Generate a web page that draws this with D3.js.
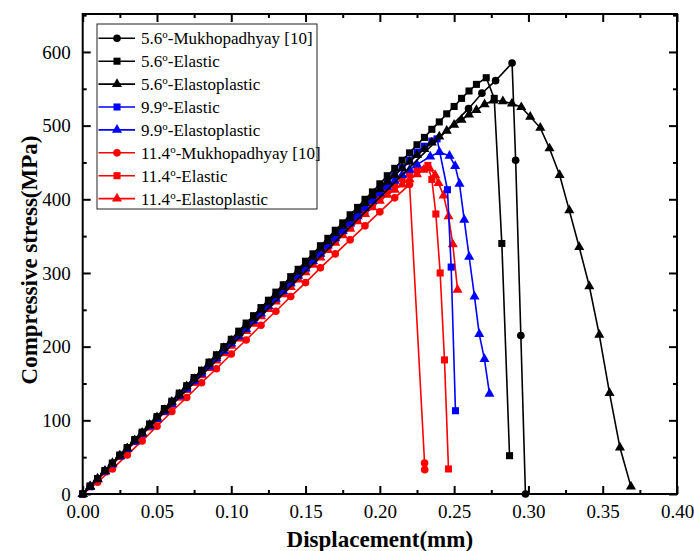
<!DOCTYPE html>
<html>
<head>
<meta charset="utf-8">
<script src="https://cdn.jsdelivr.net/npm/d3@7/dist/d3.min.js"></script>
<style>
  html, body { margin: 0; padding: 0; background: #fff; }
  svg { display: block; }
  text { font-family: "Liberation Serif", "Times New Roman", serif; }
</style>
</head>
<body>
<svg id="chart" width="694" height="551"></svg>
<script>
// ---------------- DATA ----------------
const legendLabels = [
  ["5.6", "-Mukhopadhyay [10]"],
  ["5.6", "-Elastic"],
  ["5.6", "-Elastoplastic"],
  ["9.9", "-Elastic"],
  ["9.9", "-Elastoplastic"],
  ["11.4", "-Mukhopadhyay [10]"],
  ["11.4", "-Elastic"],
  ["11.4", "-Elastoplastic"]
];
const seriesColors = ["#000000", "#000000", "#000000", "#0000ff", "#0000ff", "#ff0000", "#ff0000", "#ff0000"];
const seriesSymbols = ["circle", "square", "triangle", "square", "triangle", "circle", "square", "triangle"];

const xTicks = [0.00, 0.05, 0.10, 0.15, 0.20, 0.25, 0.30, 0.35, 0.40];
const xMinorTicks = [0.025, 0.075, 0.125, 0.175, 0.225, 0.275, 0.325, 0.375];
const yTicks = [0, 100, 200, 300, 400, 500, 600];
const yMinorTicks = [50, 150, 250, 350, 450, 550, 650];

// shared displacement grid of the simulated curves (mm)
const simDisp = [0, 0.005, 0.01, 0.015, 0.02, 0.025, 0.03, 0.035, 0.04, 0.045,
  0.05, 0.055, 0.06, 0.065, 0.07, 0.075, 0.08, 0.085, 0.09, 0.095,
  0.10, 0.105, 0.11, 0.115, 0.12, 0.125, 0.13, 0.135, 0.14, 0.145,
  0.15, 0.155, 0.16, 0.165, 0.17, 0.175, 0.18, 0.185, 0.19, 0.195,
  0.20, 0.205, 0.21, 0.215, 0.22, 0.225, 0.23, 0.235, 0.24, 0.245,
  0.25, 0.255, 0.26, 0.265];

// 5.6 Mukhopadhyay [10]
const muk56Disp = [0, 0.2597, 0.2687, 0.2779, 0.289, 0.2914, 0.2949, 0.298];
const muk56Stress = [0, 523, 544, 561, 585, 453, 215, 0];

// 5.6 Elastic
const el56TailDisp = [0.2716, 0.277, 0.2821, 0.2873];
const el56Stress = [0, 11, 21, 32, 42, 53, 63, 74, 84, 95,
  105, 116, 126, 137, 147, 158, 168, 179, 189, 200,
  210, 221, 232, 242, 253, 263, 274, 284, 295, 305,
  316, 326, 337, 347, 358, 368, 379, 389, 400, 410,
  421, 432, 442, 453, 463, 474, 484, 495, 505, 516,
  526, 537, 547, 556,
  565, 537, 340, 52];

// 5.6 Elastoplastic
const ep56TailDisp = [0.2705, 0.2765, 0.2828, 0.2889, 0.2952, 0.3012, 0.308, 0.3142,
  0.321, 0.3275, 0.3342, 0.341, 0.3477, 0.3546, 0.3616, 0.369];
const ep56Stress = [0, 10, 21, 31, 42, 52, 62, 73, 83, 94,
  104, 114, 125, 135, 146, 156, 166, 177, 187, 198,
  208, 218, 229, 239, 250, 260, 270, 281, 291, 302,
  312, 322, 333, 343, 354, 364, 374, 385, 395, 405,
  414, 424, 433, 442, 451, 460, 468, 477, 485, 493,
  501, 508, 515, 521,
  529, 534, 533, 530, 525, 512, 497, 469, 433, 385, 335, 282, 216, 137, 63, 10];

// 9.9 Elastic
const el99TailDisp = [0.2385, 0.2455, 0.248, 0.2509];
const el99Stress = [0, 10, 21, 31, 41, 52, 62, 72, 82, 93,
  103, 113, 124, 134, 144, 155, 165, 175, 185, 196,
  206, 216, 227, 237, 247, 258, 268, 278, 288, 299,
  309, 319, 330, 340, 350, 361, 371, 381, 391, 402,
  412, 422, 433, 443, 453, 464, 472, 479,
  482, 413, 308, 113];

// 9.9 Elastoplastic
const ep99TailDisp = [0.2339, 0.2401, 0.2469, 0.2507, 0.2536, 0.2568, 0.2601, 0.2637,
  0.2669, 0.2704, 0.2738];
const ep99Stress = [0, 10, 20, 31, 41, 51, 61, 71, 82, 92,
  102, 112, 122, 133, 143, 153, 163, 173, 184, 194,
  204, 214, 224, 235, 245, 255, 265, 275, 286, 296,
  306, 316, 326, 337, 347, 357, 367, 377, 388, 398,
  408, 417, 425, 433, 440, 447,
  458, 464, 459, 445, 421, 372, 322, 268, 217, 183, 136];

// 11.4 Mukhopadhyay [10]
const muk114Disp = [0, 0.01, 0.02, 0.03, 0.04, 0.05, 0.06, 0.07, 0.08, 0.09,
  0.10, 0.11, 0.12, 0.13, 0.14, 0.15, 0.16, 0.17, 0.18, 0.19,
  0.20, 0.21, 0.22, 0.2301, 0.2302];
const muk114Stress = [0, 16, 34, 53, 72, 92, 112, 131, 151, 170,
  190, 209, 229, 248, 268, 287, 307, 326, 345, 364,
  383, 402, 420, 42, 33];

// 11.4 Elastic
const el114TailDisp = [0.2323, 0.235, 0.2377, 0.2406, 0.2435, 0.2462];
const el114Stress = [0, 10, 20, 30, 41, 51, 61, 71, 81, 91,
  102, 112, 122, 132, 142, 152, 163, 173, 183, 193,
  203, 213, 223, 234, 244, 254, 264, 274, 284, 294,
  304, 314, 324, 334, 344, 354, 364, 374, 384, 394,
  403, 412, 420, 428, 435, 440,
  446, 427, 380, 300, 182, 34];

// 11.4 Elastoplastic
const ep114TailDisp = [0.2295, 0.2335, 0.2372, 0.2395, 0.2429, 0.2462, 0.2491, 0.2523];
const ep114Stress = [0, 10, 20, 30, 40, 51, 61, 71, 81, 91,
  101, 111, 121, 131, 141, 151, 161, 171, 181, 191,
  201, 211, 221, 231, 241, 251, 261, 271, 281, 291,
  301, 311, 321, 331, 341, 351, 360, 370, 380, 389,
  398, 406, 413, 420, 427, 434,
  440, 442, 433, 422, 405, 377, 339, 277];

// ---------------- BUILD SERIES ----------------
function simX(stress, tail) {
  return simDisp.slice(0, stress.length - tail.length).concat(tail);
}
const seriesX = [
  muk56Disp,
  simX(el56Stress, el56TailDisp),
  simX(ep56Stress, ep56TailDisp),
  simX(el99Stress, el99TailDisp),
  simX(ep99Stress, ep99TailDisp),
  muk114Disp,
  simX(el114Stress, el114TailDisp),
  simX(ep114Stress, ep114TailDisp)
];
const seriesY = [muk56Stress, el56Stress, ep56Stress, el99Stress, ep99Stress, muk114Stress, el114Stress, ep114Stress];

const series = legendLabels.map((lab, i) => ({
  label: lab,
  color: seriesColors[i],
  symbol: seriesSymbols[i],
  points: seriesX[i].map((x, j) => ({ x: x, y: seriesY[i][j] }))
}));

// ---------------- LAYOUT ----------------
const svg = d3.select("#chart");
const plot = { left: 82.7, top: 14, right: 677, bottom: 494 };

const x = d3.scaleLinear().domain([0, 0.4]).range([plot.left, plot.right]);
const y = d3.scaleLinear().domain([0, 651.5]).range([plot.bottom, plot.top]);

const symbolTypes = { circle: d3.symbolCircle, square: d3.symbolSquare, triangle: d3.symbolTriangle };
const symbolSizes = { circle: 46, square: 50, triangle: 44 };

// ---------------- CURVES (first legend entry drawn on top) ----------------
const line = d3.line().x(d => x(d.x)).y(d => y(d.y));
const gCurves = svg.append("g");
series.slice().reverse().forEach(s => {
  const g = gCurves.append("g");
  g.append("path")
    .attr("d", line(s.points))
    .attr("fill", "none")
    .attr("stroke", s.color)
    .attr("stroke-width", 1.6);
  const sym = d3.symbol().type(symbolTypes[s.symbol]).size(symbolSizes[s.symbol]);
  g.selectAll("path.m").data(s.points.filter(p => !(s.symbol === "circle" && s.color === "#000000" && p.x === 0)))
    .enter().append("path")
    .attr("class", "m")
    .attr("d", sym)
    .attr("transform", d => `translate(${x(d.x)},${y(d.y)})`)
    .attr("fill", s.color);
});

// ---------------- AXES ----------------
function styleAxis(g) {
  g.select(".domain").remove();
  g.selectAll(".tick line").attr("stroke", "#000").attr("stroke-width", 2);
  g.selectAll(".tick text").attr("fill", "#000").style("font-size", "19px")
    .style("font-family", '"Liberation Serif", "Times New Roman", serif');
}
// bottom major
svg.append("g").attr("transform", `translate(0,${plot.bottom})`)
  .call(d3.axisBottom(x).tickValues(xTicks).tickFormat(d3.format(".2f"))
    .tickSizeInner(-8).tickSizeOuter(0).tickPadding(11))
  .call(styleAxis);
// bottom minor
svg.append("g").attr("transform", `translate(0,${plot.bottom})`)
  .call(d3.axisBottom(x).tickValues(xMinorTicks).tickFormat("").tickSizeInner(-4).tickSizeOuter(0))
  .call(styleAxis);
// top
svg.append("g").attr("transform", `translate(0,${plot.top})`)
  .call(d3.axisTop(x).tickValues(xTicks).tickFormat("").tickSizeInner(-8).tickSizeOuter(0))
  .call(styleAxis);
svg.append("g").attr("transform", `translate(0,${plot.top})`)
  .call(d3.axisTop(x).tickValues(xMinorTicks).tickFormat("").tickSizeInner(-4).tickSizeOuter(0))
  .call(styleAxis);
// left
svg.append("g").attr("transform", `translate(${plot.left},0)`)
  .call(d3.axisLeft(y).tickValues(yTicks).tickFormat(d3.format("d"))
    .tickSizeInner(-8).tickSizeOuter(0).tickPadding(12))
  .call(styleAxis);
svg.append("g").attr("transform", `translate(${plot.left},0)`)
  .call(d3.axisLeft(y).tickValues(yMinorTicks).tickFormat("").tickSizeInner(-4).tickSizeOuter(0))
  .call(styleAxis);
// right
svg.append("g").attr("transform", `translate(${plot.right},0)`)
  .call(d3.axisRight(y).tickValues(yTicks).tickFormat("").tickSizeInner(-8).tickSizeOuter(0))
  .call(styleAxis);
svg.append("g").attr("transform", `translate(${plot.right},0)`)
  .call(d3.axisRight(y).tickValues(yMinorTicks).tickFormat("").tickSizeInner(-4).tickSizeOuter(0))
  .call(styleAxis);

// frame
svg.append("rect")
  .attr("x", plot.left).attr("y", plot.top)
  .attr("width", plot.right - plot.left).attr("height", plot.bottom - plot.top)
  .attr("fill", "none").attr("stroke", "#000").attr("stroke-width", 2);

// axis titles
svg.append("text")
  .attr("x", (plot.left + plot.right) / 2).attr("y", 547)
  .attr("text-anchor", "middle")
  .style("font-size", "23px").style("font-weight", "bold")
  .text("Displacement(mm)");
svg.append("text")
  .attr("transform", `translate(37,${(plot.top + plot.bottom) / 2 + 6}) rotate(-90)`)
  .attr("text-anchor", "middle")
  .style("font-size", "23px").style("font-weight", "bold")
  .text("Compressive stress(MPa)");

// ---------------- LEGEND ----------------
const legend = svg.append("g");
legend.append("rect")
  .attr("x", 97).attr("y", 24).attr("width", 220).attr("height", 185)
  .attr("fill", "#fff").attr("stroke", "#222").attr("stroke-width", 1);
series.forEach((s, i) => {
  const cy = 38.3 + i * 22.9;
  legend.append("line")
    .attr("x1", 98.5).attr("x2", 135).attr("y1", cy).attr("y2", cy)
    .attr("stroke", s.color).attr("stroke-width", 1.6);
  legend.append("path")
    .attr("d", d3.symbol().type(symbolTypes[s.symbol]).size(symbolSizes[s.symbol]))
    .attr("transform", `translate(117,${cy})`)
    .attr("fill", s.color);
  const t = legend.append("text")
    .attr("x", 141).attr("y", cy + 6)
    .style("font-size", "17px").attr("fill", "#000");
  t.append("tspan").text(s.label[0]);
  t.append("tspan").attr("dy", -6).style("font-size", "11px").text("o");
  t.append("tspan").attr("dy", 6).text(s.label[1]);
});
</script>
</body>
</html>
